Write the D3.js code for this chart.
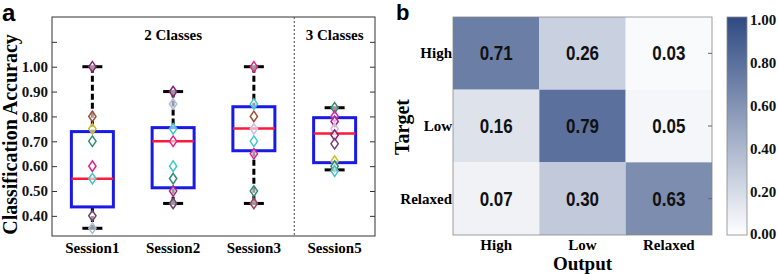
<!DOCTYPE html>
<html>
<head>
<meta charset="utf-8">
<script src="https://cdn.jsdelivr.net/npm/d3@7"></script>
<style>
  body { margin: 0; background: white; }
  svg { display: block; }
</style>
</head>
<body>
<div id="chart"></div>
<script>
// ---- panel a data ----
const sessions = ['Session1', 'Session2', 'Session3', 'Session5'];
const q1Vals = [0.436, 0.513, 0.662, 0.614];
const medianVals = [0.549, 0.70, 0.751, 0.731];
const q3Vals = [0.739, 0.755, 0.839, 0.795];
const whiskLow = [0.35, 0.45, 0.45, 0.585];
const whiskHigh = [1.00, 0.90, 1.00, 0.835];
const pointsS1 = [1.00, 0.80, 0.75, 0.70, 0.60, 0.55, 0.40, 0.35];
const pointsS2 = [0.90, 0.85, 0.75, 0.70, 0.60, 0.55, 0.50, 0.45];
const pointsS3 = [1.00, 0.85, 0.80, 0.75, 0.70, 0.65, 0.50, 0.45];
const pointsS5 = [0.835, 0.80, 0.78, 0.75, 0.725, 0.69, 0.62, 0.60, 0.58];
const colorsS1 = ['#8a2070', '#a0503a', '#c8c020', '#2e8a78', '#e0208a', '#40c8c8', '#70406a', '#a8bce0'];
const colorsS2 = ['#8a2070', '#a8bce0', '#40c8c8', '#e0208a', '#40c8c8', '#2e8a78', '#b02080', '#70406a'];
const colorsS3 = ['#e0208a', '#40c8c8', '#a0503a', '#c8c0e0', '#40c8c8', '#e0208a', '#2e8a78', '#a04060'];
const colorsS5 = ['#2e8a78', '#e020b0', '#b02080', '#c8c0e0', '#8a2070', '#70406a', '#c8c020', '#2e8a78', '#40c8c8'];
const yTicksA = [0.4, 0.5, 0.6, 0.7, 0.8, 0.9, 1.0, 1.1];
const groupLabels = ['2 Classes', '3 Classes'];

// ---- panel b data ----
const targets = ['High', 'Low', 'Relaxed'];
const outputs = ['High', 'Low', 'Relaxed'];
const rowHigh = [0.71, 0.26, 0.03];
const rowLow = [0.16, 0.79, 0.05];
const rowRelaxed = [0.07, 0.30, 0.63];
const cbarTicks = [0, 0.2, 0.4, 0.6, 0.8, 1.0];

const W = 778, H = 274;
const serif = '"Liberation Serif", "Times New Roman", serif';
const sans = '"Liberation Sans", Arial, sans-serif';

let svg = d3.select('#chart').append('svg')
  .attr('width', W).attr('height', H)
  .style('background', 'white');

// ================= panel a =================
let ax = { left: 52, right: 375, top: 17, bottom: 236 };

let x = d3.scalePoint().domain(sessions).range([ax.left, ax.right]).padding(0.5);
let y = d3.scaleLinear().domain([0.319, 1.2]).range([ax.bottom, ax.top]);
let boxW = x.step() * 0.52;
let capW = 20;

let pointSets = [pointsS1, pointsS2, pointsS3, pointsS5];
let colorSets = [colorsS1, colorsS2, colorsS3, colorsS5];

let boxes = sessions.map((s, i) => ({
  s: s, q1: q1Vals[i], med: medianVals[i], q3: q3Vals[i],
  lo: whiskLow[i], hi: whiskHigh[i],
  pts: pointSets[i].map((v, j) => ({ v: v, c: colorSets[i][j] }))
}));

// axes (ticks inward)
svg.append('g')
  .attr('transform', 'translate(' + ax.left + ',0)')
  .call(d3.axisLeft(y).tickValues(yTicksA).tickSize(-5).tickPadding(4)
    .tickFormat(d => d <= 1.0001 ? d3.format('.2f')(d) : ''))
  .call(g => g.select('.domain').remove())
  .call(g => g.selectAll('line').attr('stroke', '#333'))
  .call(g => g.selectAll('text').style('font-family', serif).style('font-weight', 'bold')
    .style('font-size', '15px').attr('fill', '#111'));

svg.append('g')
  .attr('transform', 'translate(' + ax.right + ',0)')
  .call(d3.axisRight(y).tickValues(yTicksA).tickSize(-5).tickFormat(''))
  .call(g => g.select('.domain').remove())
  .call(g => g.selectAll('line').attr('stroke', '#333'));

svg.append('rect')
  .attr('x', ax.left).attr('y', ax.top)
  .attr('width', ax.right - ax.left).attr('height', ax.bottom - ax.top)
  .attr('fill', 'none').attr('stroke', '#333').attr('stroke-width', 1);

// separator between 2 classes and 3 classes
let sepX = (x('Session3') + x('Session5')) / 2;
svg.append('line')
  .attr('x1', sepX).attr('x2', sepX).attr('y1', ax.top).attr('y2', ax.bottom)
  .attr('stroke', '#444').attr('stroke-width', 1).attr('stroke-dasharray', '2,2');

// group labels
svg.append('text')
  .attr('x', (x('Session1') + x('Session3')) / 2).attr('y', 40)
  .attr('text-anchor', 'middle')
  .style('font-family', serif).style('font-weight', 'bold').style('font-size', '15px')
  .text(groupLabels[0]);
svg.append('text')
  .attr('x', x('Session5')).attr('y', 40)
  .attr('text-anchor', 'middle')
  .style('font-family', serif).style('font-weight', 'bold').style('font-size', '15px')
  .text(groupLabels[1]);

// x labels
svg.selectAll('.xlab')
  .data(sessions)
  .enter()
  .append('text')
  .attr('class', 'xlab')
  .attr('x', d => x(d)).attr('y', 253)
  .attr('text-anchor', 'middle')
  .style('font-family', serif).style('font-weight', 'bold').style('font-size', '15px')
  .text(d => d);

// y label
svg.append('text')
  .attr('transform', 'translate(17,' + ((ax.top + ax.bottom) / 2 + 8) + ') rotate(-90)')
  .attr('text-anchor', 'middle')
  .style('font-family', serif).style('font-weight', 'bold').style('font-size', '20px')
  .text('Classification Accuracy');

// panel letter
svg.append('text')
  .attr('x', 2).attr('y', 21)
  .style('font-family', sans).style('font-weight', 'bold').style('font-size', '24px')
  .text('a');

let bg = svg.selectAll('.box')
  .data(boxes)
  .enter()
  .append('g')
  .attr('class', 'box');

// whiskers
bg.append('line')
  .attr('x1', d => x(d.s)).attr('x2', d => x(d.s))
  .attr('y1', d => y(d.hi)).attr('y2', d => y(d.q3))
  .attr('stroke', 'black').attr('stroke-width', 3).attr('stroke-dasharray', '6,3');
bg.append('line')
  .attr('x1', d => x(d.s)).attr('x2', d => x(d.s))
  .attr('y1', d => y(d.q1)).attr('y2', d => y(d.lo))
  .attr('stroke', 'black').attr('stroke-width', 3).attr('stroke-dasharray', '6,3');
// caps
bg.append('line')
  .attr('x1', d => x(d.s) - capW / 2).attr('x2', d => x(d.s) + capW / 2)
  .attr('y1', d => y(d.hi)).attr('y2', d => y(d.hi))
  .attr('stroke', 'black').attr('stroke-width', 3);
bg.append('line')
  .attr('x1', d => x(d.s) - capW / 2).attr('x2', d => x(d.s) + capW / 2)
  .attr('y1', d => y(d.lo)).attr('y2', d => y(d.lo))
  .attr('stroke', 'black').attr('stroke-width', 3);
// box
bg.append('rect')
  .attr('x', d => x(d.s) - boxW / 2).attr('width', boxW)
  .attr('y', d => y(d.q3)).attr('height', d => y(d.q1) - y(d.q3))
  .attr('fill', 'none').attr('stroke', '#1a1ae6').attr('stroke-width', 3);
// median
bg.append('line')
  .attr('x1', d => x(d.s) - boxW / 2).attr('x2', d => x(d.s) + boxW / 2)
  .attr('y1', d => y(d.med)).attr('y2', d => y(d.med))
  .attr('stroke', '#ff1a3a').attr('stroke-width', 2.5);

// data points as hollow diamonds
let diamond = d3.symbol().type(d3.symbolDiamond).size(32);
bg.each(function(b) {
  d3.select(this).selectAll('path.pt')
    .data(b.pts)
    .enter()
    .append('path')
    .attr('class', 'pt')
    .attr('d', diamond)
    .attr('transform', d => 'translate(' + x(b.s) + ',' + y(d.v) + ') scale(1.2,1)')
    .attr('fill', 'white').attr('fill-opacity', 0.6)
    .attr('stroke', d => d.c).attr('stroke-width', 1.3);
});

// ================= panel b =================
let hm = { left: 453, right: 712, top: 17, bottom: 235 };
let matrix = [rowHigh, rowLow, rowRelaxed];
let cells = [];
targets.forEach((t, i) => outputs.forEach((o, j) => cells.push({ t: t, o: o, v: matrix[i][j] })));

let xb = d3.scaleBand().domain(outputs).range([hm.left, hm.right]);
let yb = d3.scaleBand().domain(targets).range([hm.top, hm.bottom]);
let color = d3.scaleLinear().domain([0, 1]).range(['#ffffff', '#2f4a82']).interpolate(d3.interpolateRgb);

svg.selectAll('.cell')
  .data(cells)
  .enter()
  .append('rect')
  .attr('class', 'cell')
  .attr('x', d => xb(d.o)).attr('y', d => yb(d.t))
  .attr('width', xb.bandwidth()).attr('height', yb.bandwidth())
  .attr('fill', d => color(d.v));

svg.selectAll('.cellText')
  .data(cells)
  .enter()
  .append('text')
  .attr('class', 'cellText')
  .attr('x', d => xb(d.o) + xb.bandwidth() / 2)
  .attr('y', d => yb(d.t) + yb.bandwidth() / 2 + 7)
  .attr('text-anchor', 'middle')
  .attr('textLength', 33).attr('lengthAdjust', 'spacingAndGlyphs')
  .style('font-family', sans).style('font-weight', 'bold').style('font-size', '20px')
  .attr('fill', '#111')
  .text(d => d3.format('.2f')(d.v));

svg.append('rect')
  .attr('x', hm.left).attr('y', hm.top)
  .attr('width', hm.right - hm.left).attr('height', hm.bottom - hm.top)
  .attr('fill', 'none').attr('stroke', '#888').attr('stroke-width', 0.8);

// small ticks on the right edge
svg.append('g')
  .attr('transform', 'translate(' + hm.right + ',0)')
  .call(d3.axisRight(yb).tickSize(-4).tickFormat(''))
  .call(g => g.select('.domain').remove())
  .call(g => g.selectAll('line').attr('stroke', '#666'));

// category labels
svg.selectAll('.ylabB')
  .data(targets)
  .enter()
  .append('text')
  .attr('class', 'ylabB')
  .attr('x', hm.left - 1).attr('y', d => yb(d) + yb.bandwidth() / 2 + 5)
  .attr('text-anchor', 'end')
  .style('font-family', serif).style('font-weight', 'bold').style('font-size', '15px')
  .text(d => d);

svg.selectAll('.xlabB')
  .data(outputs)
  .enter()
  .append('text')
  .attr('class', 'xlabB')
  .attr('x', d => xb(d) + xb.bandwidth() / 2).attr('y', 250)
  .attr('text-anchor', 'middle')
  .style('font-family', serif).style('font-weight', 'bold').style('font-size', '15px')
  .text(d => d);

svg.append('text')
  .attr('x', (hm.left + hm.right) / 2).attr('y', 270)
  .attr('text-anchor', 'middle')
  .style('font-family', serif).style('font-weight', 'bold').style('font-size', '19px')
  .text('Output');

svg.append('text')
  .attr('transform', 'translate(409,' + ((hm.top + hm.bottom) / 2 + 1) + ') rotate(-90)')
  .attr('text-anchor', 'middle')
  .style('font-family', serif).style('font-weight', 'bold').style('font-size', '20px')
  .text('Target');

svg.append('text')
  .attr('x', 396).attr('y', 20)
  .style('font-family', sans).style('font-weight', 'bold').style('font-size', '22px')
  .text('b');

// colorbar
let cb = { x: 727, w: 20, top: 17, bottom: 235 };
let cy = d3.scaleLinear().domain([0, 1]).range([234, 20]);

let defs = svg.append('defs');
let grad = defs.append('linearGradient')
  .attr('id', 'cbGrad')
  .attr('x1', '0%').attr('x2', '0%').attr('y1', '100%').attr('y2', '0%');
grad.selectAll('stop')
  .data(d3.range(0, 1.0001, 0.1))
  .enter()
  .append('stop')
  .attr('offset', d => (d * 100) + '%')
  .attr('stop-color', d => color(d));

svg.append('rect')
  .attr('x', cb.x).attr('y', cb.top)
  .attr('width', cb.w).attr('height', cb.bottom - cb.top)
  .attr('fill', 'url(#cbGrad)')
  .attr('stroke', '#888').attr('stroke-width', 0.8);

svg.append('g')
  .attr('transform', 'translate(' + (cb.x + cb.w) + ',0)')
  .call(d3.axisRight(cy).tickValues(cbarTicks).tickSize(0).tickPadding(3)
    .tickFormat(d3.format('.2f')))
  .call(g => g.select('.domain').remove())
  .call(g => g.selectAll('text').style('font-family', serif).style('font-weight', 'bold')
    .style('font-size', '15px').attr('fill', '#111'));
</script>
</body>
</html>
